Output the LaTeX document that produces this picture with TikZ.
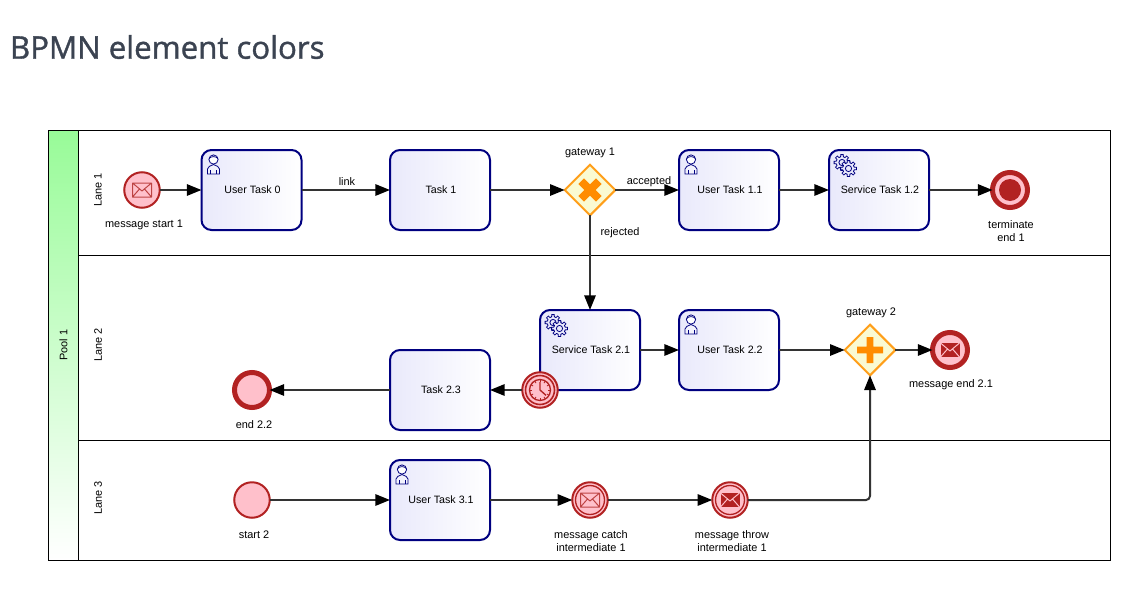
\documentclass[tikz,border=0pt]{standalone}
\usepackage{fontspec}
\setmainfont{Liberation Sans}
\newfontfamily\titlefont[FakeBold=1.2]{Open Sans}
\usetikzlibrary{shapes.geometric,arrows.meta}
\definecolor{fire}{HTML}{B22222}
\definecolor{pinkfill}{HTML}{FFC0CB}
\definecolor{navyline}{HTML}{000080}
\definecolor{lav}{HTML}{E9E9FB}
\definecolor{gwfill}{HTML}{FAFAD2}
\definecolor{gwline}{HTML}{FF9E1A}
\definecolor{gwmark}{HTML}{FF8C00}
\definecolor{edgeline}{HTML}{333333}
\definecolor{titlecol}{HTML}{3B4351}
\definecolor{poolgreen}{HTML}{98FB98}
\newcommand{\onegear}[2]{%
  \draw[navyline,line width=.6pt,fill=lav,shift={(#1,#2)}]
    (-14:5.8) \foreach \a in {0,45,...,315}{ -- ({\a-14}:5.8) -- ({\a-9}:8) -- ({\a+9}:8) -- ({\a+14}:5.8) } -- cycle
    (0,0) circle[radius=3.1];}
\newcommand{\tl}[1]{\hspace*{1.5pt}\raisebox{-1.25pt}{#1}}
\tikzset{
  x=0.75pt,y=-0.75pt,
  every node/.style={inner sep=0pt,outer sep=0pt},
  lbl/.style={font=\fontsize{8.2}{9.75}\selectfont,align=center,text=black},
  taskbox/.style={draw=navyline,line width=1.5pt,rounded corners=7.5pt,left color=lav,right color=white,
    minimum width=75pt,minimum height=60pt,font=\fontsize{8}{9.75}\selectfont,align=center,text=black},
  evt/.style={circle,minimum size=#1*0.75pt,fill=pinkfill},
  gate/.style={diamond,aspect=1,draw=gwline,line width=1.5pt,fill=gwfill,minimum width=38pt,minimum height=38pt},
  flow/.style={draw=edgeline,line width=1.5pt,-{Triangle[length=11pt,width=8.5pt,fill=black,color=black]}},
  envline/.pic={
    \draw[fire!85,line width=.75pt,line join=round] (-9.5,-7) rectangle (9.5,7)
      (-9.5,-7) -- (0,1) -- (9.5,-7) (-9.5,7) -- (-2.5,-1) (9.5,7) -- (2.5,-1);},
  envfill/.pic={
    \fill[fire] (-9.5,-7) rectangle (9.5,7);
    \draw[pinkfill,line width=.75pt,line join=round]
      (-9.5,-7) -- (0,1) -- (9.5,-7) (-9.5,7) -- (-2.5,-1) (9.5,7) -- (2.5,-1);},
  usericon/.pic={
    \draw[navyline,line width=.6pt,fill=lav!60] (6,24) -- (6,19) .. controls (6,16.5) and (9,16) .. (12,14.5) .. controls (15,16) and (18,16.5) .. (18,19) -- (18,24) -- cycle;
    \draw[navyline,line width=.6pt] (9,24) -- (9,20) (15,24) -- (15,20);
    \draw[navyline,line width=.6pt,fill=white] (12,9.5) circle[radius=4.6];
    \draw[navyline,line width=.6pt] (7.6,8.5) .. controls (9.5,6) and (14.5,6) .. (16.4,8.5);},
  gearicon/.pic={\onegear{13}{12.5}\onegear{19.5}{18.5}},
}
\begin{document}
\begin{tikzpicture}
\useasboundingbox (0,0) rectangle (1140,600);
\fill[white] (0,0) rectangle (1140,600);
\node[anchor=west,text=titlecol,font=\titlefont\fontsize{23.4}{28}\selectfont] (title) at (10,47) {BPMN element colors};

% pool and lanes
\shade[top color=poolgreen,bottom color=white] (48,130) rectangle (78,560);
\draw[black,line width=.75pt] (48,130) rectangle (1110,560);
\draw[black,line width=.75pt] (78,130) -- (78,560) (78,255) -- (1110,255) (78,440) -- (1110,440);
\node[lbl,rotate=90] (pool) at (63.5,345) {Pool 1};
\node[lbl,rotate=90] (lane1) at (98,190) {Lane 1};
\node[lbl,rotate=90] (lane2) at (98,345) {Lane 2};
\node[lbl,rotate=90] (lane3) at (98,498) {Lane 3};

% tasks
\node[taskbox] (ut0) at (251.5,190) {\tl{User Task 0}};
\node[taskbox] (t1) at (440,190) {\tl{Task 1}};
\node[taskbox] (ut11) at (729,190) {\tl{User Task 1.1}};
\node[taskbox] (st12) at (879,190) {\tl{Service Task 1.2}};
\node[taskbox] (st21) at (590,350) {\tl{Service Task 2.1}};
\node[taskbox] (ut22) at (729,350) {\tl{User Task 2.2}};
\node[taskbox] (t23) at (440,390) {\tl{Task 2.3}};
\node[taskbox] (ut31) at (440,500) {\tl{User Task 3.1}};
\pic at (ut0.north west) {usericon};
\pic at (ut11.north west) {usericon};
\pic at (ut22.north west) {usericon};
\pic at (ut31.north west) {usericon};
\pic at (st12.north west) {gearicon};
\pic at (st21.north west) {gearicon};

% events
\node[evt=35.5,draw=fire,line width=1.5pt] (s1) at (142,190) {};
\pic at (s1) {envline};
\node[evt=35.5,draw=fire,line width=1.5pt] (s2) at (252,500) {};
\node[evt=35,draw=fire,line width=3.75pt] (e22) at (252,390) {};
\node[evt=35,draw=fire,line width=3.75pt] (e21) at (950,350) {};
\pic at (e21) {envfill};
\node[evt=35,draw=fire,line width=3.75pt] (term) at (1010,190) {};
\fill[fire] (term) circle[radius=11];
\node[evt=35.5,draw=fire,line width=1.5pt] (catch) at (590,500) {};
\draw[fire,line width=1pt] (catch) circle[radius=14.5];
\pic at (catch) {envline};
\node[evt=35.5,draw=fire,line width=1.5pt] (throw) at (730,500) {};
\draw[fire,line width=1pt] (throw) circle[radius=14.5];
\pic at (throw) {envfill};

% gateways
\node[gate] (g1) at (590,190) {};
\fill[gwmark,rotate around={45:(g1)}] ([xshift=-9.4pt,yshift=-3pt]g1.center) rectangle ([xshift=9.4pt,yshift=3pt]g1.center)
  ([xshift=-3pt,yshift=-9.4pt]g1.center) rectangle ([xshift=3pt,yshift=9.4pt]g1.center);
\node[gate] (g2) at (870,350) {};
\fill[gwmark] ([xshift=-9.75pt,yshift=-2.6pt]g2.center) rectangle ([xshift=9.75pt,yshift=2.6pt]g2.center)
  ([xshift=-2.6pt,yshift=-9.75pt]g2.center) rectangle ([xshift=2.6pt,yshift=9.75pt]g2.center);

% connectors
\draw[flow] (s1) -- (ut0);
\draw[flow] (ut0) -- (t1);
\draw[flow] (t1) -- (g1);
\draw[flow] (g1) -- (ut11);
\draw[flow] (ut11) -- (st12);
\draw[flow] (st12) -- (term);
\draw[flow] (g1) -- (st21);
\draw[flow] (st21.east) -- (st21.east -| ut22.west);
\draw[flow] (ut22) -- (g2);
\draw[flow] (g2) -- (e21);
\draw[flow] (s2) -- (ut31);
\draw[flow] (ut31) -- (catch);
\draw[flow] (catch) -- (throw);
\draw[flow,rounded corners=3pt] (throw) -| (g2);
\draw[flow] (t23) -- (e22);

% boundary timer
\node[evt=35.5,draw=fire,line width=1.5pt] (timer) at (540,390) {};
\draw[fire,line width=1.2pt] (timer) circle[radius=14.5];
\draw[fire,line width=1pt] (timer) circle[radius=10.5];
\foreach \a in {0,30,...,330}{\draw[fire,line width=.6pt] (timer) ++(\a:8) -- ++(\a:2.5);}
\draw[fire,line width=1pt] ([yshift=6pt]timer.center) -- (timer.center) -- ([xshift=4.5pt,yshift=-4pt]timer.center);
\draw[flow] (timer) -- (t23);

% labels
\node[lbl] (ls1) at (144,224.7) {message start 1};
\node[lbl] (lg1) at (590,152.7) {gateway 1};
\node[lbl] (lterm) at (1011,231) {terminate\\end 1};
\node[lbl] (lg2) at (871,312.7) {gateway 2};
\node[lbl] (le21) at (951,384.7) {message end 2.1};
\node[lbl] (le22) at (254,424.7) {end 2.2};
\node[lbl] (ls2) at (254,534.7) {start 2};
\node[lbl] (lcatch) at (591,541) {message catch\\intermediate 1};
\node[lbl] (lthrow) at (732,541) {message throw\\intermediate 1};
\node[lbl] (llink) at (347,181.5) {link};
\node[lbl] (lacc) at (649,181.7) {accepted};
\node[lbl] (lrej) at (620,232.7) {rejected};
\end{tikzpicture}
\end{document}
